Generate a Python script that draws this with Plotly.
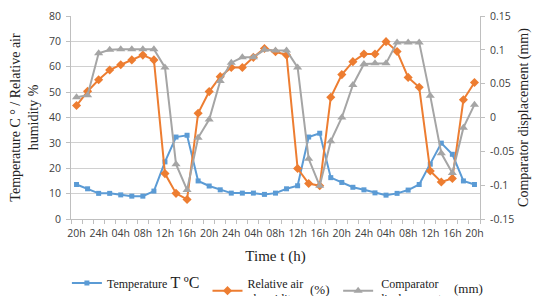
import plotly.graph_objects as go

time_labels = ["20h", "22h", "24h", "02h", "04h", "06h", "08h", "10h", "12h", "14h", "16h", "18h",
               "20h", "22h", "24h", "02h", "04h", "06h", "08h", "10h", "12h", "14h", "16h", "18h",
               "20h", "22h", "24h", "02h", "04h", "06h", "08h", "10h", "12h", "14h", "16h", "18h", "20h"]

temperature = [13.6, 11.9, 10.1, 10.1, 9.5, 9.0, 9.0, 11.0, 22.5, 32.3, 33.0, 15.0,
               13.0, 11.5, 10.2, 10.2, 10.2, 9.7, 10.2, 11.9, 13.1, 32.3, 33.8, 16.3,
               14.4, 12.5, 11.5, 10.3, 9.4, 10.1, 11.4, 13.6, 21.6, 29.9, 25.5, 15.0, 13.6]

humidity = [44.7, 50.3, 54.9, 58.7, 60.8, 62.7, 64.6, 62.7, 17.9, 10.1, 7.7, 41.7,
            50.2, 56.1, 59.7, 59.7, 63.7, 67.2, 65.9, 64.6, 19.9, 14.0, 13.1, 48.0,
            56.9, 62.0, 65.0, 65.0, 69.9, 66.0, 55.8, 51.9, 18.9, 14.6, 16.0, 47.0, 53.8]

displacement = [0.030, 0.033, 0.095, 0.100, 0.101, 0.101, 0.101, 0.101, 0.074, -0.069, -0.107, -0.030,
                -0.003, 0.054, 0.081, 0.089, 0.089, 0.100, 0.099, 0.099, 0.074, -0.061, -0.101, -0.035,
                0.000, 0.048, 0.079, 0.080, 0.080, 0.111, 0.111, 0.111, 0.032, -0.053, -0.082, -0.015, 0.019]

left_ticks = [0, 10, 20, 30, 40, 50, 60, 70, 80]
right_ticks = [-0.15, -0.1, -0.05, 0, 0.05, 0.1, 0.15]
right_ticktext = ["-0.15", "-0.1", "-0.05", "0", "0.05", "0.1", "0.15"]

x = list(range(len(time_labels)))
label_idx = x[::2]
label_text = [time_labels[i] for i in label_idx]

BLUE = "#5B9BD5"
ORANGE = "#ED7D31"
GRAY = "#A5A5A5"
SERIF = "Liberation Serif, Times New Roman, serif"
SANS = "Open Sans, sans-serif"
TICKFONT = dict(family=SANS, size=10.5, color="#404040")
NB = "&nbsp;"

fig = go.Figure()
fig.add_trace(go.Scatter(x=x, y=temperature, mode="lines+markers",
                         name="Temperature <span style='font-size:16px'>T ºC</span>" + NB,
                         line=dict(color=BLUE, width=2),
                         marker=dict(symbol="square", size=5, color=BLUE)))
fig.add_trace(go.Scatter(x=x, y=humidity, mode="lines+markers",
                         name="Relative air" + NB * 10 + "<br>" + NB * 2 + "humidity",
                         line=dict(color=ORANGE, width=2),
                         marker=dict(symbol="diamond", size=7, color=ORANGE)))
fig.add_trace(go.Scatter(x=x, y=displacement, mode="lines+markers", yaxis="y2",
                         name=NB + "Comparator<br>displacement",
                         line=dict(color=GRAY, width=2),
                         marker=dict(symbol="triangle-up", size=8, color=GRAY)))

# unit labels beside the two-line legend entries
fig.add_annotation(text="(%)", xref="paper", yref="paper", x=0.609, y=-0.345,
                   xanchor="center", yanchor="middle",
                   showarrow=False, font=dict(family=SERIF, size=13, color="#222"))
fig.add_annotation(text="(mm)", xref="paper", yref="paper", x=0.973, y=-0.342,
                   xanchor="center", yanchor="middle",
                   showarrow=False, font=dict(family=SERIF, size=13, color="#222"))

# The page body adds an 8px offset, so the margins are shifted by 8px to compensate.
fig.update_layout(
    width=543, height=296,
    margin=dict(l=63, r=71, t=8, b=85, autoexpand=False),
    paper_bgcolor="white", plot_bgcolor="white",
    showlegend=True,
    legend=dict(orientation="h", x=-0.01, y=-0.355, xanchor="left", yanchor="middle",
                font=dict(family=SERIF, size=12, color="#222"),
                valign="middle", tracegroupgap=0, itemwidth=30),
    xaxis=dict(range=[-0.5, len(x) - 0.5], tickmode="array", tickvals=label_idx, ticktext=label_text,
               ticks="", showgrid=False, showline=True, linecolor="#BFBFBF", linewidth=1,
               tickfont=TICKFONT, ticklabelstandoff=4,
               minor=dict(tickmode="array", tickvals=[i - 0.5 for i in range(len(x) + 1)],
                          ticks="outside", ticklen=4, tickcolor="#BFBFBF", showgrid=False),
               title=dict(text="Time t (h)", font=dict(family=SERIF, size=15, color="#222"), standoff=11),
               zeroline=False, automargin=False),
    yaxis=dict(range=[0, 80], tickmode="array", tickvals=left_ticks,
               showgrid=True, gridcolor="#D0D0D0", gridwidth=1,
               showline=True, linecolor="#BFBFBF", ticks="outside", ticklen=4, tickcolor="#BFBFBF",
               tickfont=TICKFONT, ticklabelstandoff=3,
               title=dict(text="Temperature C ° / Relative air<br>humidity %",
                          font=dict(family=SERIF, size=14, color="#222"), standoff=6),
               zeroline=False, automargin=False),
    yaxis2=dict(range=[-0.15, 0.15], overlaying="y", side="right", tickmode="array",
                tickvals=right_ticks, ticktext=right_ticktext, showgrid=False,
                showline=True, linecolor="#BFBFBF", ticks="outside", ticklen=4, tickcolor="#BFBFBF",
                tickfont=TICKFONT, ticklabelstandoff=3,
                title=dict(text="Comparator displacement (mm)",
                           font=dict(family=SERIF, size=14, color="#222"), standoff=4),
                zeroline=False, automargin=False),
)

fig.write_html("out.html")
